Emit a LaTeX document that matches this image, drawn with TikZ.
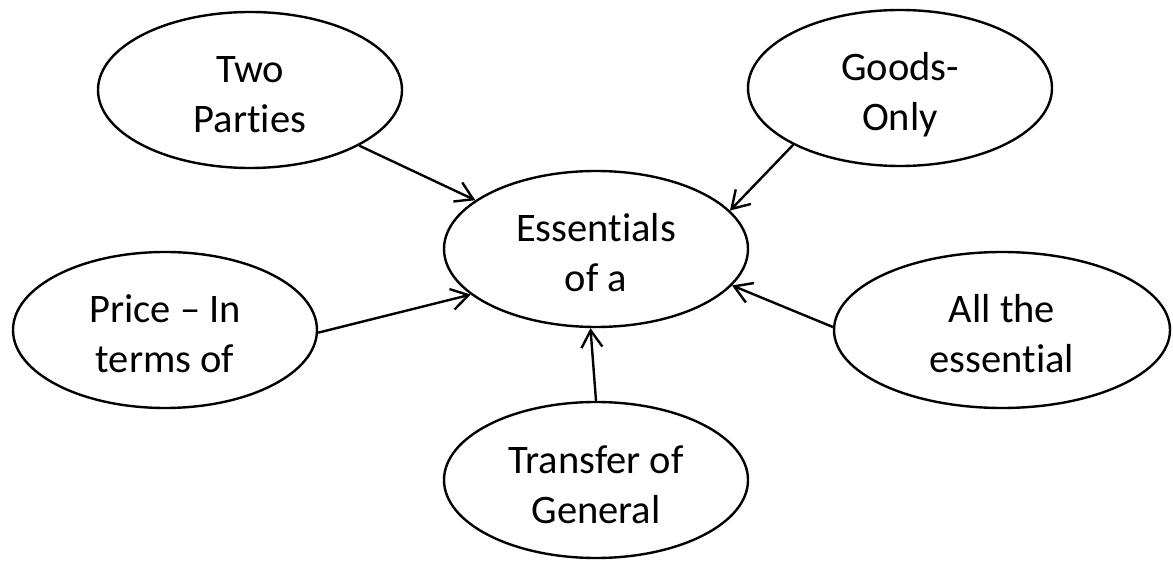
\documentclass[tikz,border=0pt]{standalone}
\usepackage{fontspec}
\setmainfont{Carlito}[RawFeature={-liga,-clig}]
\usetikzlibrary{shapes.geometric,arrows.meta}
\newcommand\twolines[2]{\rule{0pt}{46pt}#1\\#2\rule[-10pt]{0pt}{10pt}}
\begin{document}
\begin{tikzpicture}[x=1pt,y=1pt,
  bubble/.style={ellipse,draw=black,line width=2.4pt,inner sep=0pt,
    minimum width=304pt,minimum height=156pt,align=center,
    font=\fontsize{40.5}{50}\selectfont},
  link/.style={draw=black,line width=2.4pt,-{Straight Barb[length=17pt,width=21pt]}}]
\useasboundingbox (0,0) rectangle (1173,560);
\node[bubble] (tp) at (250,470) {\twolines{Two}{Parties}};
\node[bubble] (go) at (900,472) {\twolines{Goods-}{Only}};
\node[bubble] (es) at (596,311) {\twolines{Essentials}{of a}};
\node[bubble] (pr) at (165,230) {\twolines{Price – In}{terms of}};
\node[bubble,minimum width=336pt] (al) at (1002,230) {\twolines{All the}{essential}};
\node[bubble] (tr) at (596,80) {\twolines{Transfer of}{General}};
\draw[link] (tp.-27) -- (es.158.8);
\draw[link] (go.208) -- (es.16.7);
\draw[link] (pr.-1) -- (es.200);
\draw[link] (al.179) -- (es.-15.4);
\draw[link] (tr.90) -- (es.266);
\end{tikzpicture}
\end{document}
